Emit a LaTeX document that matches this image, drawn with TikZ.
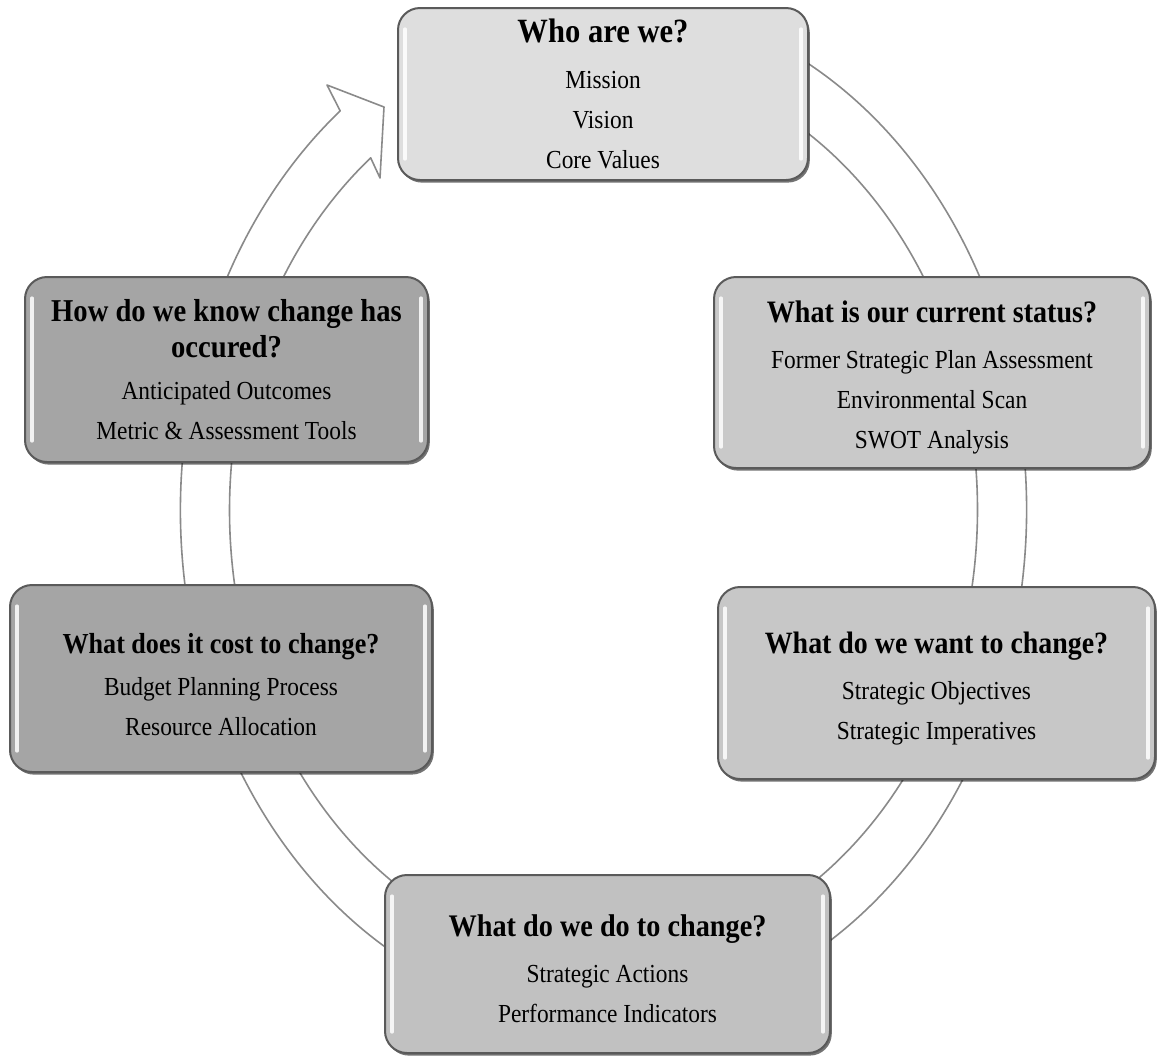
\documentclass[tikz,border=0pt]{standalone}
\usepackage{fontspec}
\setmainfont[FakeStretch=0.9]{Liberation Serif}
\usetikzlibrary{shadows,calc}
\definecolor{cwho}{HTML}{DEDEDE}
\definecolor{cstatus}{HTML}{C9C9C9}
\definecolor{cwant}{HTML}{C7C7C7}
\definecolor{cdo}{HTML}{C1C1C1}
\definecolor{cleft}{HTML}{A5A5A5}
\definecolor{cring}{HTML}{8A8A8A}
\definecolor{cedge}{HTML}{5A5A5A}
\newcommand\bxtitle[2]{{\fontsize{#1}{20}\selectfont\bfseries #2}}
\newcommand\topgap{\rule{0pt}{16pt}}
\begin{document}
\begin{tikzpicture}[x=0.5pt,y=0.5pt,
  ring/.style={fill=white, draw=cring, line width=0.8pt, line join=round},
  box/.style={rounded corners=11pt, draw=cedge, line width=1pt, align=center,
    inner sep=0pt, font=\fontsize{13}{20}\selectfont,
    drop shadow={shadow xshift=0.9pt, shadow yshift=-1.3pt, fill=black, opacity=0.55}},
  hl/.style={white, line width=1.6pt, opacity=0.85, line cap=round}]
\useasboundingbox (0,0) rectangle (1157,-1057);
\fill[white] (0,0) rectangle (1157,-1057);
% circular arrow band
\coordinate (c) at (603.5,-510);
\coordinate (os) at ($(c)+(75:423 and 510)$);
\coordinate (in) at ($(c)+(-231.5:374 and 450)$);
\coordinate (b1) at (327,-85);
\coordinate (tip) at (384,-107);
\coordinate (b2) at (380,-178);
\draw[ring] (os) arc[start angle=75, end angle=-231.5, x radius=423, y radius=510]
  -- (b1) -- (tip) -- (b2) -- (in)
  arc[start angle=-231.5, end angle=75, x radius=374, y radius=450] -- cycle;
% boxes
\node[box, fill=cwho, minimum width=205pt, minimum height=86pt] (who) at (603,-94)
  {\bxtitle{17}{Who are we?}\\[3pt]Mission\\Vision\\Core Values};
\node[box, fill=cstatus, minimum width=218pt, minimum height=95.5pt] (status) at (932,-372.5)
  {\topgap\bxtitle{15.6}{What is our current status?}\\[3pt]Former Strategic Plan Assessment\\Environmental Scan\\SWOT Analysis};
\node[box, fill=cwant, minimum width=218.5pt, minimum height=96pt] (want) at (936.5,-683)
  {\topgap\bxtitle{15.5}{What do we want to change?}\\[3pt]Strategic Objectives\\Strategic Imperatives};
\node[box, fill=cdo, minimum width=222.5pt, minimum height=89pt] (do) at (607.5,-964)
  {\topgap\bxtitle{15.7}{What do we do to change?}\\[3pt]Strategic Actions\\Performance Indicators};
\node[box, fill=cleft, minimum width=211pt, minimum height=93.5pt] (cost) at (221,-678.5)
  {\topgap\bxtitle{14.5}{What does it cost to change?}\\[1pt]Budget Planning Process\\Resource Allocation};
\node[box, fill=cleft, minimum width=201.5pt, minimum height=92.5pt] (know) at (226.5,-369.5)
  {\bxtitle{15.9}{How do we know change has}\\[-2pt]\bxtitle{15.9}{occured?}\\[1pt]Anticipated Outcomes\\Metric \& Assessment Tools};
% bevel highlights
\foreach \n in {who,status,want,do,cost,know}{
  \draw[hl] ([xshift=4pt,yshift=-11pt]\n.north west) -- ([xshift=4pt,yshift=11pt]\n.south west);
  \draw[hl] ([xshift=-4pt,yshift=-11pt]\n.north east) -- ([xshift=-4pt,yshift=11pt]\n.south east);
}
\end{tikzpicture}
\end{document}
